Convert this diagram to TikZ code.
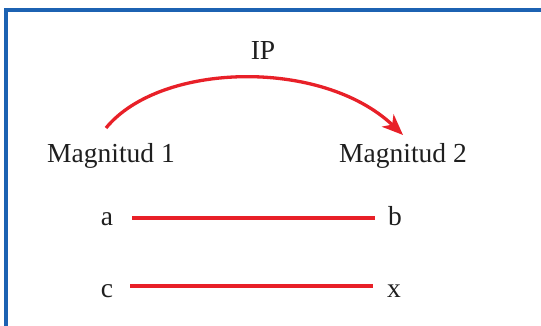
\documentclass[tikz,border=0pt]{standalone}
\usepackage{fontspec}
\setmainfont{Liberation Serif}
\usetikzlibrary{arrows.meta}
\definecolor{frameblue}{RGB}{28,98,178}
\definecolor{lred}{RGB}{232,32,40}
\begin{document}
\begin{tikzpicture}[x=1pt,y=-1pt,
  lbl/.style={font=\fontsize{27.5}{32}\selectfont,text=black!88,inner sep=0pt},
  redline/.style={draw=lred,line width=3.3pt}]
\useasboundingbox (0,0) rectangle (541,326);
\draw[frameblue,line width=3.2pt] (6,330) -- (6,10) -- (545,10);
\node[lbl,anchor=base] (ip) at (263,60) {IP};
\node[lbl,anchor=base] (m1) at (111,163) {Magnitud 1};
\node[lbl,anchor=base] (m2) at (403,163) {Magnitud 2};
\coordinate (s) at (106,128);
\coordinate (e) at (403,135);
\draw[redline,-{Stealth[length=21pt,width=17pt,inset=6pt]}] (s) .. controls (160,62) and (322,58) .. (e);
\node[lbl,anchor=base] (a) at (107,225) {a};
\node[lbl,anchor=base] (b) at (395,225) {b};
\node[lbl,anchor=base] (c) at (107,297) {c};
\node[lbl,anchor=base] (x) at (394,297) {x};
\coordinate (a1) at (132,218);
\coordinate (b1) at (375,218);
\coordinate (c1) at (130,286);
\coordinate (x1) at (373,286);
\draw[redline] (a1) -- (b1);
\draw[redline] (c1) -- (x1);
\end{tikzpicture}
\end{document}
